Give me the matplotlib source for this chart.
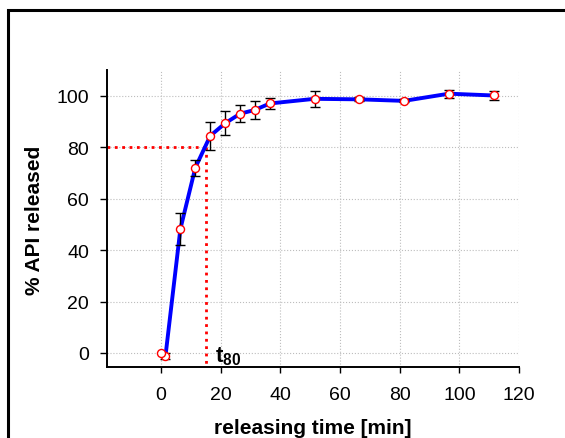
import matplotlib
matplotlib.use("Agg")
import matplotlib.pyplot as plt
from matplotlib.patches import Rectangle

plt.rcParams["font.family"] = ["Liberation Sans", "DejaVu Sans"]
plt.rcParams["mathtext.fontset"] = "custom"
plt.rcParams["mathtext.bf"] = "Liberation Sans:bold"
plt.rcParams["mathtext.rm"] = "Liberation Sans"

# release profile
t_start = [0]
api_start = [0]
t_min = [1.5, 6.5, 11.5, 16.5, 21.5, 26.5, 31.5, 36.5, 51.5, 66.5, 81.5, 96.5, 111.5]
api_pct = [-1.2, 48.2, 72.0, 84.4, 89.3, 93.0, 94.5, 97.0, 98.8, 98.6, 98.0, 100.8, 100.1]
api_err = [1.2, 6.2, 3.2, 5.3, 4.6, 3.3, 3.6, 2.3, 3.0, 0.8, 0.6, 1.6, 1.6]
t80 = 15.1
xticks = [0, 20, 40, 60, 80, 100, 120]
yticks = [0, 20, 40, 60, 80, 100]

fig = plt.figure(figsize=(5.65, 4.39), dpi=100)
ax = fig.add_axes([107/565, 71/439, 412/565, 297.5/439])

# frame round the figure, cut by the right and bottom edge
fig.patches.append(Rectangle((8/565, -0.05), 1.2, 1 - 11/439 + 0.05,
                             transform=fig.transFigure, fill=False,
                             edgecolor="black", linewidth=2.2))

ax.set_xlim(-18.1, 120)
ax.set_ylim(-5.45, 110.2)

ax.grid(True, color="#bdbdbd", linestyle=":", linewidth=0.8)
ax.set_axisbelow(True)

ax.plot([-18.1, t80], [80, 80], color="red", linestyle=":", linewidth=2, zorder=2)
ax.plot([t80, t80], [80, -5.45], color="red", linestyle=":", linewidth=2, zorder=2)

ax.plot(t_min, api_pct, color="blue", linewidth=2.8, zorder=3)
ax.errorbar(t_min, api_pct, yerr=api_err, fmt="none", ecolor="black",
            elinewidth=1, capsize=3.5, capthick=1, zorder=4)
ax.plot(t_min, api_pct, linestyle="none", marker="o", markersize=5.8,
        markerfacecolor="white", markeredgecolor="red", markeredgewidth=1, zorder=5)
ax.plot(t_start, api_start, linestyle="none", marker="o", markersize=5.8,
        markerfacecolor="white", markeredgecolor="red", markeredgewidth=1, zorder=5)

ax.text(18.0, -3.2, r"$\mathbf{t_{80}}$", fontsize=16, ha="left", va="baseline")

ax.set_xticks(xticks)
ax.set_yticks(yticks)
ax.tick_params(axis="x", labelsize=14, length=4, width=1, pad=10)
ax.tick_params(axis="y", labelsize=14, length=5, width=1, pad=8)

for s in ["top", "right"]:
    ax.spines[s].set_visible(False)
for s in ["left", "bottom"]:
    ax.spines[s].set_linewidth(1.4)

fig.text(313/565, 5/439, "releasing time [min]", fontsize=15, fontweight="bold",
         ha="center", va="baseline")
fig.text(35/565, 219/439, "% API released", fontsize=15, fontweight="bold",
         ha="center", va="center", rotation=90)

fig.savefig("out.png", dpi=100)
